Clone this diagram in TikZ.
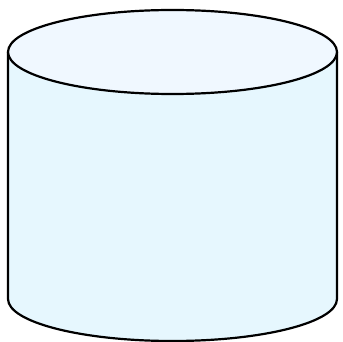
\documentclass[tikz,border=0pt]{standalone}
\definecolor{sidefill}{HTML}{E6F7FE}
\definecolor{topfill}{HTML}{F0F8FF}
\begin{document}
\begin{tikzpicture}[x=1pt,y=-1pt,line width=2.2pt]
  \useasboundingbox (0,0) rectangle (343,342);
  \fill[sidefill] (8,52)--(8,299) arc[start angle=180,end angle=0,x radius=164.5,y radius=42]--(337,52)--cycle;
  \draw (8,52)--(8,299) arc[start angle=180,end angle=0,x radius=164.5,y radius=42]--(337,52);
  \draw[fill=topfill] (172.5,52) ellipse[x radius=164.5,y radius=42];
\end{tikzpicture}
\end{document}
